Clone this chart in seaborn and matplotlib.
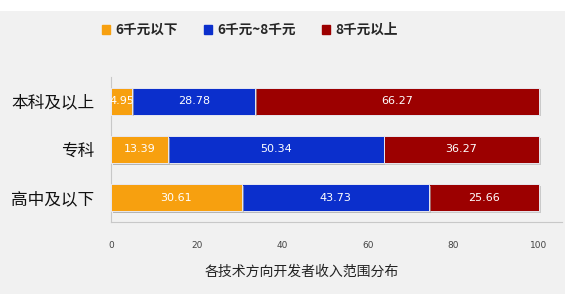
import matplotlib
matplotlib.use("Agg")
import matplotlib.pyplot as plt
import matplotlib.patches as mpatches
import matplotlib.patheffects as pe
import seaborn as sns
import numpy as np
import pandas as pd

categories = ["本科及以上", "专科", "高中及以下"]
series_names = ["6千元以下", "6千元~8千元", "8千元以上"]
low = [4.95, 13.39, 30.61]
mid = [28.78, 50.34, 43.73]
high = [66.27, 36.27, 25.66]
xticks = [0, 20, 40, 60, 80, 100]
xlabel = "各技术方向开发者收入范围分布"

colors = ["#f7a00f", "#0b2fcc", "#9c0000"]

sns.set_theme(style="white")
plt.rcParams['font.family'] = ['Noto Sans CJK SC', 'DejaVu Sans']

fig = plt.figure(figsize=(5.69, 2.94), dpi=100)
fig.patch.set_facecolor("white")
fig.patches.append(mpatches.Rectangle((0, 0), 565/569, 1 - 11/294, transform=fig.transFigure,
                                      facecolor="#f1f1f1", edgecolor="none", zorder=-10))
ax = fig.add_axes([111/569, 1 - 222/294, (562-111)/569, (222-77)/294])
ax.set_facecolor("none")

vals = np.array([low, mid, high])
cum = np.cumsum(vals, axis=0)
df = pd.DataFrame({"cat": categories})
shadow = [pe.SimplePatchShadow(offset=(1.2, -1.2), shadow_rgbFace="#b0b0b0", alpha=0.6), pe.Normal()]
for i in [2, 1, 0]:
    df["v"] = cum[i]
    sns.barplot(data=df, x="v", y="cat", orient="h", color=colors[i], width=0.56,
                edgecolor="#e8e8f0", linewidth=0.7, saturation=1, ax=ax, zorder=2 + (2 - i))
for p in ax.patches:
    p.set_path_effects(shadow)

for i in range(3):
    for j in range(3):
        start = cum[i][j] - vals[i][j]
        ax.text(start + vals[i][j] / 2, j, f"{vals[i][j]:.2f}", ha="center", va="center",
                color="white", fontsize=8, zorder=10, family="DejaVu Sans")

ax.set_xlim(0, 105.4)
ax.set_ylim(2.5, -0.5)
ax.set_xticks(xticks)
ax.set_xticklabels([str(t) for t in xticks], fontsize=6.5, color="#444444", family="DejaVu Sans")
ax.tick_params(axis="x", length=0, pad=14)
ax.tick_params(axis="y", length=0, pad=12)
ax.set_yticks(range(3))
ax.set_yticklabels(categories, fontsize=12, color="#111111")
ax.set_xlabel("")
ax.set_ylabel("")
for s in ["top", "right"]:
    ax.spines[s].set_visible(False)
for s in ["left", "bottom"]:
    ax.spines[s].set_color("#c8c8c8")
    ax.spines[s].set_linewidth(0.8)

fig.text(302/569, 1 - 272/294, xlabel, ha="center", va="center", fontsize=10, color="#222222")

handles = [mpatches.Patch(color=c, label=n) for c, n in zip(colors, series_names)]
fig.legend(handles=handles, loc="center", bbox_to_anchor=(250/569, 1 - 30/294), ncol=3, frameon=False,
           prop={"size": 9.8, "weight": "bold", "family": ["Noto Sans CJK SC", "DejaVu Sans"]},
           handlelength=0.6, handleheight=0.6, handletextpad=0.4, columnspacing=1.9)

fig.savefig("out.png", dpi=100)
